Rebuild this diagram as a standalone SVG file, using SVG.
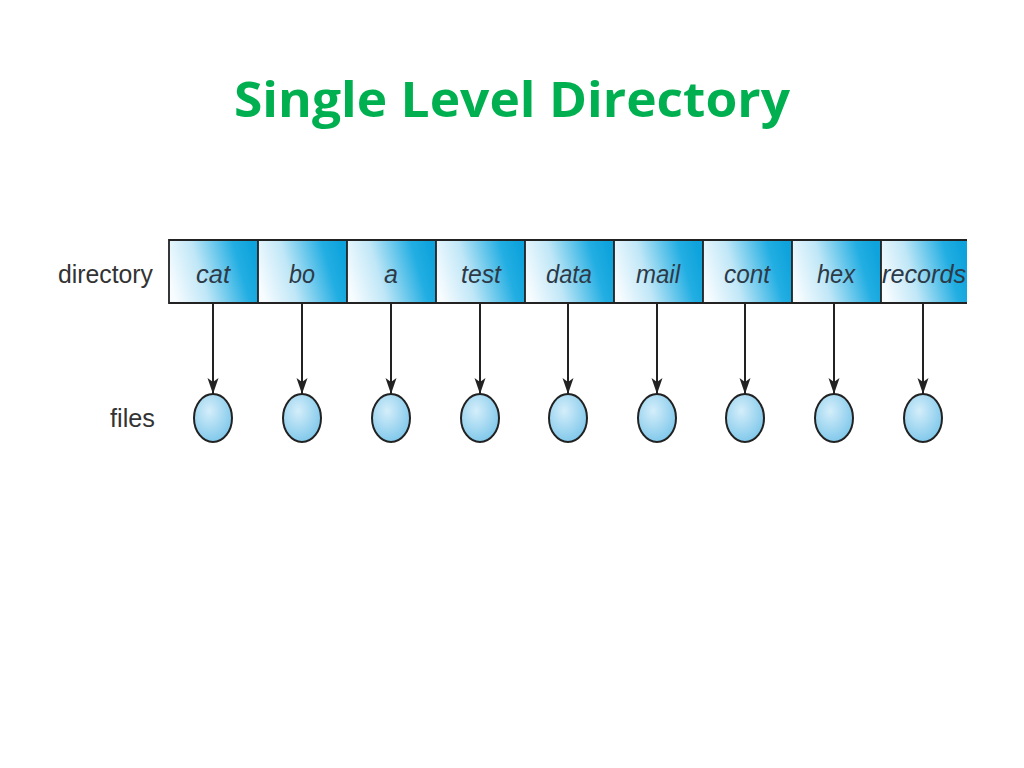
<svg xmlns="http://www.w3.org/2000/svg" width="1024" height="768" viewBox="0 0 1024 768">
<defs>
<linearGradient id="cellg" x1="0" y1="0.6" x2="1" y2="0.4">
<stop offset="0" stop-color="#f7fcff"/>
<stop offset="0.35" stop-color="#c0e7f7"/>
<stop offset="0.8" stop-color="#22aee2"/>
<stop offset="1" stop-color="#0ea3dc"/>
</linearGradient>
<radialGradient id="fileg" cx="0.4" cy="0.35" r="0.7">
<stop offset="0" stop-color="#d4eefa"/>
<stop offset="1" stop-color="#7cc6ea"/>
</radialGradient>
<marker id="arr" viewBox="0 0 16 12" refX="16" refY="6" markerWidth="16" markerHeight="12" markerUnits="userSpaceOnUse" orient="auto">
<path d="M0,0.5 L16,6 L0,11.5 L4,6 z" fill="#222"/>
</marker>
</defs>
<style>
.title{font-family:"Open Sans","Noto Sans",sans-serif;font-weight:bold;font-size:49px;fill:#00b050}
.lbl{font-family:"Liberation Sans",Arial,sans-serif;font-size:25px;fill:#333}
.cell rect{fill:url(#cellg);stroke:none}
.cell text{font-family:"Liberation Sans",Arial,sans-serif;font-style:italic;font-size:25px;fill:#2c3a48;text-anchor:middle}
.frame{fill:none;stroke:#222;stroke-width:1.8}
.file ellipse{fill:url(#fileg);stroke:#222;stroke-width:2}
.conn line{stroke:#222;stroke-width:2;marker-end:url(#arr)}
</style>
<rect width="1024" height="768" fill="#ffffff"/>
<text class="title" x="512" y="117" text-anchor="middle" textLength="556" lengthAdjust="spacingAndGlyphs">Single Level Directory</text>
<text class="lbl" x="58" y="283" textLength="95" lengthAdjust="spacingAndGlyphs">directory</text>
<text class="lbl" x="110" y="427" textLength="45" lengthAdjust="spacingAndGlyphs">files</text>
<g id="dir-cat" class="cell"><rect x="169" y="240" width="89" height="63"/><text x="213" y="283" textLength="34" lengthAdjust="spacingAndGlyphs">cat</text></g>
<g id="dir-bo" class="cell"><rect x="258" y="240" width="89" height="63"/><text x="302" y="283" textLength="26" lengthAdjust="spacingAndGlyphs">bo</text></g>
<g id="dir-a" class="cell"><rect x="347" y="240" width="89" height="63"/><text x="391" y="283">a</text></g>
<g id="dir-test" class="cell"><rect x="436" y="240" width="89" height="63"/><text x="481" y="283" textLength="40" lengthAdjust="spacingAndGlyphs">test</text></g>
<g id="dir-data" class="cell"><rect x="525" y="240" width="89" height="63"/><text x="569" y="283" textLength="46" lengthAdjust="spacingAndGlyphs">data</text></g>
<g id="dir-mail" class="cell"><rect x="614" y="240" width="89" height="63"/><text x="658" y="283" textLength="44" lengthAdjust="spacingAndGlyphs">mail</text></g>
<g id="dir-cont" class="cell"><rect x="703" y="240" width="89" height="63"/><text x="747" y="283" textLength="46" lengthAdjust="spacingAndGlyphs">cont</text></g>
<g id="dir-hex" class="cell"><rect x="792" y="240" width="89" height="63"/><text x="836" y="283" textLength="38" lengthAdjust="spacingAndGlyphs">hex</text></g>
<g id="dir-records" class="cell"><rect x="881" y="240" width="86" height="63"/><text x="924" y="283" textLength="84" lengthAdjust="spacingAndGlyphs">records</text></g>
<path class="frame" d="M967,240 H169 V303 H967 M258,240 V303 M347,240 V303 M436,240 V303 M525,240 V303 M614,240 V303 M703,240 V303 M792,240 V303 M881,240 V303"/>
<g id="connectors" class="conn">
<line x1="213" y1="303" x2="213" y2="394"/>
<line x1="302" y1="303" x2="302" y2="394"/>
<line x1="391" y1="303" x2="391" y2="394"/>
<line x1="480" y1="303" x2="480" y2="394"/>
<line x1="568" y1="303" x2="568" y2="394"/>
<line x1="657" y1="303" x2="657" y2="394"/>
<line x1="745" y1="303" x2="745" y2="394"/>
<line x1="834" y1="303" x2="834" y2="394"/>
<line x1="923" y1="303" x2="923" y2="394"/>
</g>
<g id="file-1" class="file"><ellipse cx="213" cy="418" rx="19" ry="24"/></g>
<g id="file-2" class="file"><ellipse cx="302" cy="418" rx="19" ry="24"/></g>
<g id="file-3" class="file"><ellipse cx="391" cy="418" rx="19" ry="24"/></g>
<g id="file-4" class="file"><ellipse cx="480" cy="418" rx="19" ry="24"/></g>
<g id="file-5" class="file"><ellipse cx="568" cy="418" rx="19" ry="24"/></g>
<g id="file-6" class="file"><ellipse cx="657" cy="418" rx="19" ry="24"/></g>
<g id="file-7" class="file"><ellipse cx="745" cy="418" rx="19" ry="24"/></g>
<g id="file-8" class="file"><ellipse cx="834" cy="418" rx="19" ry="24"/></g>
<g id="file-9" class="file"><ellipse cx="923" cy="418" rx="19" ry="24"/></g>
</svg>
